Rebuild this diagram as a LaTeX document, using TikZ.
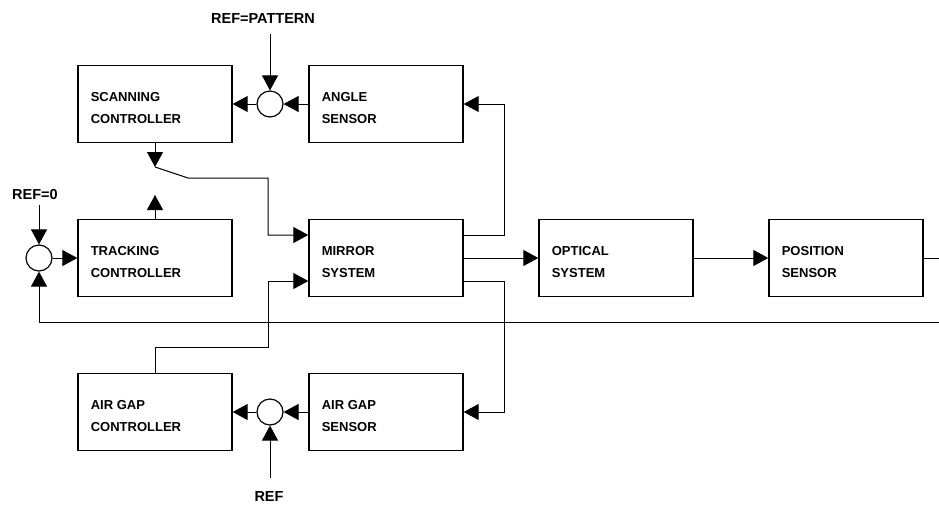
\documentclass[tikz,border=0pt]{standalone}
\usepackage{fontspec}
\setmainfont{Liberation Sans}
\usetikzlibrary{arrows.meta}

\begin{document}
\begin{tikzpicture}[x=1pt, y=-1pt, line width=1pt,
    >={Triangle[length=15pt,width=16pt]},
    blk/.style={draw, line width=1.4pt, minimum width=154pt, minimum height=77pt, inner sep=0pt},
    txt/.style={anchor=west, align=left, inner sep=0pt,
        font=\fontsize{13}{22}\selectfont\bfseries},
    reftxt/.style={inner sep=0pt, font=\fontsize{14.5}{17}\selectfont\bfseries},
    sum/.style={draw, circle, line width=1.2pt, minimum size=26pt, inner sep=0pt}]
    \useasboundingbox (0,0) rectangle (939,507);

    % Blocks
    \foreach \n/\x/\y/\a/\b in {scan/155/104/SCANNING/CONTROLLER,
        angle/386/104/ANGLE/SENSOR,
        track/155/258/TRACKING/CONTROLLER,
        mirror/386/258/MIRROR/SYSTEM,
        optical/616/258/OPTICAL/SYSTEM,
        possens/846/258/POSITION/SENSOR,
        agctrl/155/412/AIR GAP/CONTROLLER,
        agsens/386/412/AIR GAP/SENSOR} {
        \node[blk] (\n) at (\x,\y) {};
        \node[txt] (\n-t) at ([xshift=13pt,yshift=-4pt]\n.west) {\a\\\b};
    }

    % Summing points
    \foreach \n/\x/\y in {sumA/270/104, sum0/39/258, sumB/270/412}
        \node[sum] (\n) at (\x,\y) {};

    % References
    \node[reftxt] (refp) at (263,19) {REF=PATTERN};
    \node[reftxt] (ref0) at (35,195) {REF=0};
    \node[reftxt] (ref) at (269,497) {REF};

    \draw[->] (sumA |- refp.south) ++(0,10) -- (sumA.north);
    \draw[->] (sum0 |- ref0.south) ++(0,4) -- (sum0.north);
    \draw[->] (sumB |- ref.north) ++(0,-14) -- (sumB.south);

    % Angle loop
    \draw[->] (angle.west) -- (sumA.east);
    \draw[->] (sumA.west) -- (scan.east);

    % Switch between scanning and tracking
    \coordinate (swA) at (155,167);
    \coordinate (swB) at (188,178);
    \coordinate (swT) at (155,195);
    \draw[->] (scan.south) -- (swA);
    \draw[->] (track.north) -- (swT);
    \draw[->] (swA) -- (swB) -- ++(80,0) |- ([yshift=23pt]mirror.west);

    % Tracking loop
    \draw[->] (sum0.east) -- (track.west);

    % Air gap loop
    \draw[->] (agsens.west) -- (sumB.east);
    \draw[->] (sumB.west) -- (agctrl.east);
    \draw[->] (agctrl.north) -- ++(0,-25) -- ++(113,0) |- ([yshift=-23pt]mirror.west);

    % Mirror outputs
    \draw[->] ([yshift=23pt]mirror.east) -- ++(41,0) |- (angle.east);
    \draw[->] (mirror.east) -- (optical.west);
    \draw[->] ([yshift=-23pt]mirror.east) -- ++(41,0) |- (agsens.east);

    % Optical path and position feedback
    \draw[->] (optical.east) -- (possens.west);
    \coordinate (out) at (939,258);
    \coordinate (fb) at (939,322);
    \draw (possens.east) -- (out);
    \draw[->] (fb) -| (sum0.south);
\end{tikzpicture}
\end{document}
